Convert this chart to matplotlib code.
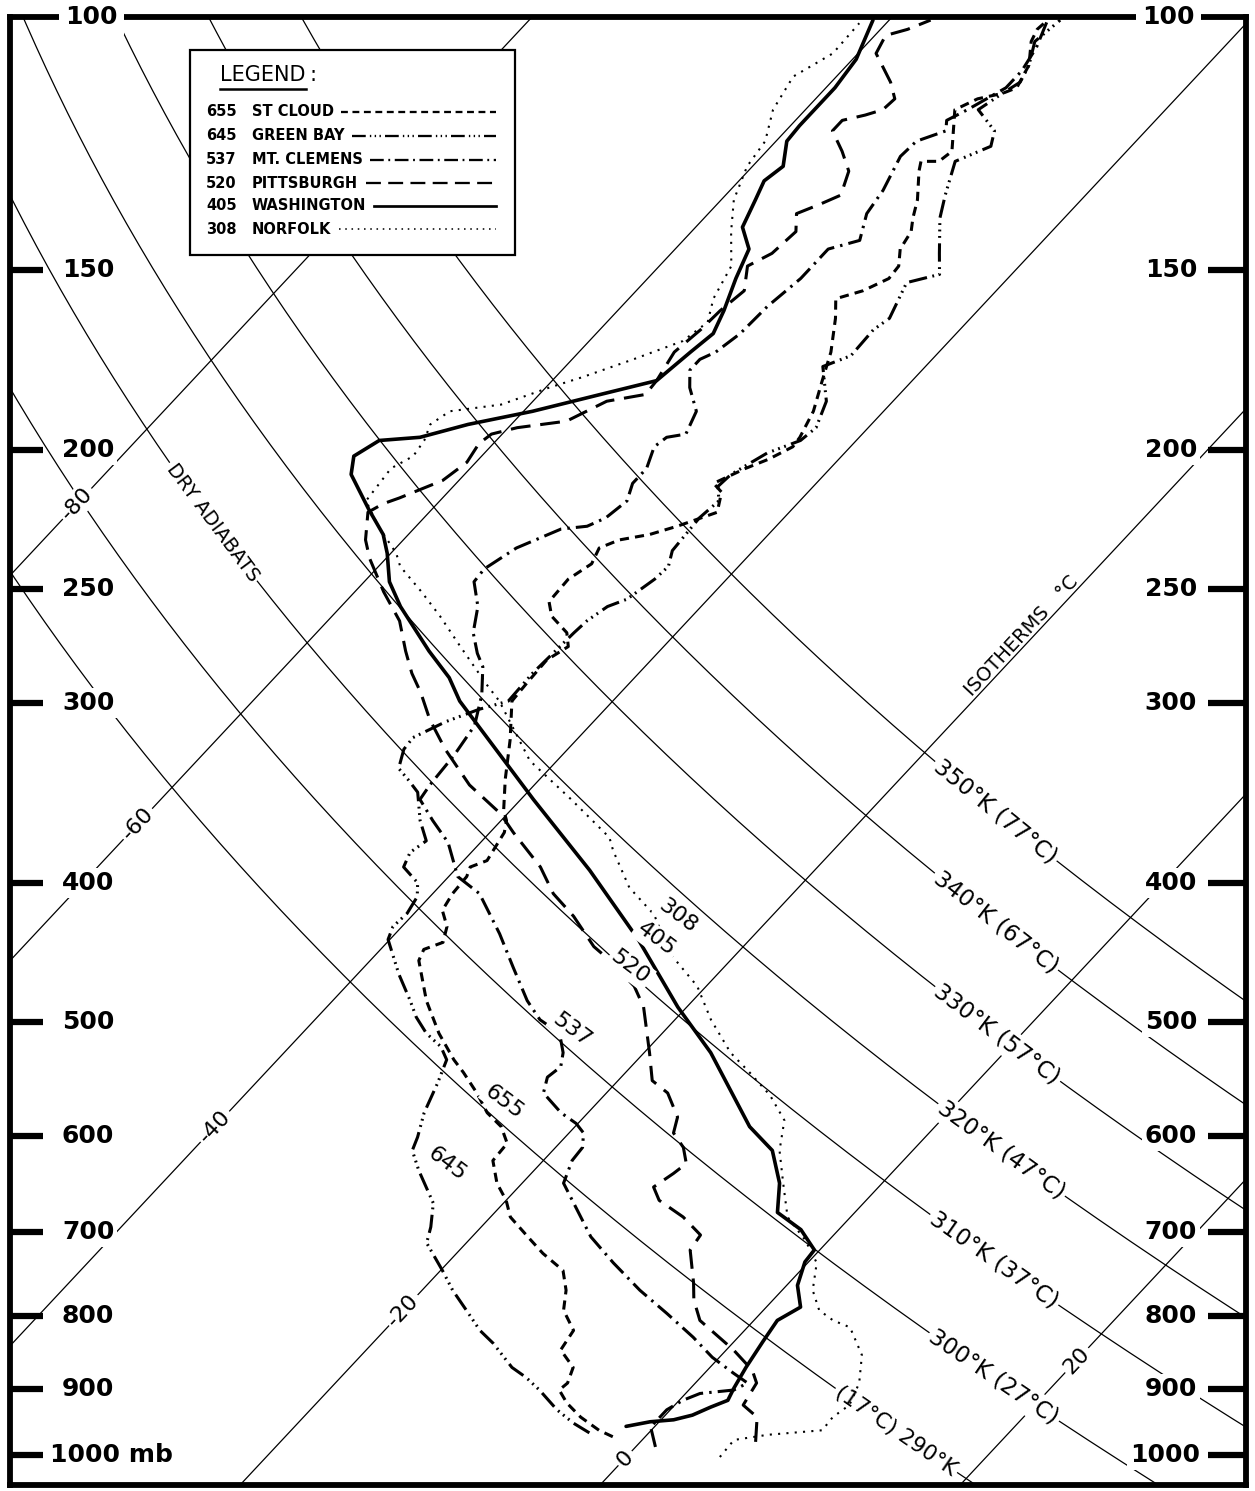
import numpy as np
import matplotlib
matplotlib.use("Agg")
import matplotlib.pyplot as plt
import matplotlib.transforms as mtransforms
from matplotlib.patches import Rectangle

SKEW = 74.67     # isotherm shift (deg C) per decade of pressure
KAPPA = 0.288

pressure_levels = [150, 200, 250, 300, 400, 500, 600, 700, 800, 900]
isotherms = [-80, -60, -40, -20, 0, 20]
isotherm_label_p = [218, 364, 591, 793, 1005, 859]
adiabats_k = [290, 300, 310, 320, 330, 340, 350]
adiabats_c = [17, 27, 37, 47, 57, 67, 77]
adiabat_label_p = [962, 883, 732, 614, 510, 426, 357]

stations = ["655", "645", "537", "520", "405", "308"]
station_names = ["ST CLOUD", "GREEN BAY", "MT. CLEMENS", "PITTSBURGH", "WASHINGTON", "NORFOLK"]
station_label_p = [568, 627, 506, 458, 438, 422]
station_label_t = -25.2

# soundings: (pressure mb, temperature C)
st_cloud = [(971, -1.8), (961, -2.9), (941, -4.6), (920, -6.1), (901, -7.2), (891, -7.1), (869, -7.6),
            (845, -9.2), (819, -9.5), (793, -11.1), (768, -12.0), (744, -13.2), (724, -15.2), (705, -16.9),
            (683, -18.9), (665, -20.0), (647, -21.4), (624, -22.8), (607, -22.9), (591, -24.1), (578, -25.6),
            (560, -27.2), (542, -29.0), (531, -30.2), (509, -32.4), (483, -34.8), (453, -37.3), (445, -37.6),
            (440, -36.9), (429, -37.5), (418, -38.6), (407, -38.9), (396, -39.0), (390, -39.3), (386, -38.7),
            (369, -39.2), (362, -39.7), (356, -40.4), (339, -41.9), (318, -43.7), (299, -45.6), (291, -45.7),
            (280, -45.8), (274, -45.3), (268, -46.1), (261, -47.8), (255, -48.7), (246, -48.8), (240, -48.3),
            (234, -48.7), (231, -48.0), (229, -46.6), (226, -45.5), (224, -44.9), (221, -44.0), (214, -44.8),
            (211, -45.7), (206, -44.7), (203, -43.9), (199, -43.2), (196, -43.3), (188, -43.9), (179, -45.0),
            (171, -46.0), (162, -47.5), (157, -48.5), (155, -47.4), (152, -46.6), (149, -46.7), (145, -47.5),
            (141, -47.8), (138, -48.4), (134, -49.1), (128, -50.5), (126, -50.9), (126, -49.9), (124, -49.7),
            (116, -51.7), (114, -51.0), (113, -49.9), (112, -49.4), (108, -49.9), (104, -51.0), (102, -51.3),
            (100.5, -51.2)]

green_bay = [(965, -3.3), (950, -4.7), (930, -6.3), (901, -8.3), (883, -9.7), (869, -11.0), (836, -13.3),
             (819, -14.7), (793, -16.5), (768, -18.3), (744, -19.9), (712, -22.2), (694, -22.8), (668, -23.9),
             (634, -26.4), (614, -27.8), (601, -28.2), (578, -29.1), (551, -29.9), (531, -30.6), (520, -31.6),
             (509, -33.1), (496, -34.5), (483, -35.7), (463, -37.7), (438, -40.1), (429, -40.5), (420, -40.4),
             (409, -40.7), (400, -41.4), (390, -43.0), (381, -43.4), (374, -43.1), (362, -44.5), (346, -46.1),
             (339, -47.3), (333, -48.4), (323, -49.1), (317, -49.2), (309, -48.2), (303, -47.0), (299, -45.8),
             (286, -45.9), (277, -45.8), (268, -45.7), (263, -45.6), (257, -45.2), (254, -44.5), (246, -44.0),
             (241, -43.9), (235, -44.5), (229, -44.6), (223, -44.7), (217, -44.5), (212, -45.3), (208, -45.2),
             (201, -44.3), (197, -43.1), (193, -42.9), (185, -43.7), (175, -45.7), (172, -44.7), (165, -44.8),
             (162, -44.5), (153, -45.4), (151, -44.0), (146, -45.1), (138, -46.9), (133, -47.8), (126, -49.0),
             (123, -47.8), (120, -48.4), (116, -50.4), (113, -49.9), (111, -49.5), (108, -49.9), (104, -50.8),
             (100.5, -50.5)]

mt_clemens = [(987, 1.1), (956, -0.2), (930, -0.2), (916, 0.2), (906, 0.8), (901, 2.5), (891, 2.9),
              (877, 1.6), (855, -0.4), (828, -2.5), (797, -5.2), (768, -7.9), (735, -10.8), (705, -13.4),
              (647, -17.7), (637, -18.0), (624, -18.4), (611, -18.5), (597, -19.2), (588, -20.1), (578, -21.5),
              (560, -23.5), (546, -24.1), (537, -23.9), (525, -24.5), (509, -25.7), (498, -27.5), (483, -29.2),
              (458, -31.7), (434, -34.2), (407, -37.4), (396, -39.5), (375, -41.8), (362, -43.8), (350, -45.6),
              (342, -45.8), (326, -46.0), (311, -46.4), (296, -47.6), (283, -49.0), (277, -50.0), (268, -51.3),
              (257, -52.4), (247, -53.9), (242, -54.0), (234, -53.3), (227, -51.8), (226, -50.5), (223, -49.9),
              (217, -49.6), (211, -50.2), (206, -50.2), (199, -50.9), (196, -50.7), (195, -49.8), (188, -50.4),
              (181, -52.0), (176, -52.9), (173, -52.9), (171, -52.4), (166, -52.0), (159, -51.9), (152, -51.5),
              (145, -51.5), (143, -50.2), (137, -51.2), (132, -51.5), (125, -52.3), (122, -52.2), (120, -51.1),
              (118, -51.6), (116, -51.0), (112, -50.0), (109, -50.0), (105, -50.4), (100.5, -51.2)]

pittsburgh = [(979, 6.4), (941, 5.2), (923, 3.8), (891, 3.4), (873, 2.5), (845, 0.4), (806, -3.0),
              (780, -4.4), (759, -5.3), (720, -7.2), (703, -7.4), (683, -9.3), (665, -11.5), (651, -12.5),
              (637, -12.1), (627, -11.9), (611, -12.9), (597, -14.2), (582, -14.8), (560, -16.6), (549, -18.1),
              (525, -19.7), (488, -22.4), (472, -24.0), (451, -27.0), (443, -28.3), (422, -31.0), (407, -33.3),
              (390, -35.4), (369, -38.7), (358, -40.4), (342, -43.6), (323, -46.8), (308, -49.2), (295, -51.1),
              (286, -52.6), (276, -54.1), (263, -56.0), (251, -58.4), (238, -60.9), (231, -62.1), (221, -63.4),
              (218, -63.0), (216, -62.4), (210, -60.9), (204, -60.5), (198, -60.8), (195, -60.6), (193, -59.5),
              (191, -57.1), (185, -55.9), (183, -54.1), (179, -54.2), (171, -54.7), (165, -54.4), (160, -54.3),
              (155, -54.0), (149, -55.1), (146, -54.4), (141, -54.2), (137, -55.1), (135, -54.3), (133, -53.6),
              (128, -54.4), (124, -55.8), (120, -57.4), (118, -57.4), (117, -56.4), (116, -55.7), (114, -55.6),
              (111, -56.7), (106, -59.0), (103, -59.4), (102, -58.5), (100.5, -57.7)]

washington = [(955, -1.6), (948, -0.5), (945, 0.7), (938, 1.5), (926, 2.1), (916, 2.7), (898, 2.4),
              (869, 2.0), (834, 1.6), (806, 1.3), (789, 1.9), (762, 0.6), (734, -0.2), (720, -0.3),
              (697, -2.1), (678, -4.3), (647, -5.7), (614, -7.8), (591, -10.3), (525, -16.3), (488, -20.5),
              (438, -26.2), (392, -32.5), (350, -39.3), (299, -48.5), (288, -50.3), (276, -52.8), (257, -56.7),
              (247, -58.6), (236, -60.2), (229, -61.4), (220, -63.5), (208, -66.3), (202, -67.1), (197, -66.5),
              (196, -64.4), (192, -62.4), (188, -59.5), (183, -56.6), (179, -54.2), (171, -53.8), (166, -53.5),
              (160, -54.1), (152, -55.1), (145, -55.9), (140, -57.4), (134, -58.1), (130, -58.6), (127, -58.3),
              (122, -59.4), (119, -59.5), (112, -59.5), (107, -59.8), (100.5, -60.9)]

norfolk = [(1003, 5.2), (976, 5.1), (968, 6.7), (961, 9.5), (941, 9.4), (923, 9.7), (891, 9.1), (852, 7.8),
           (815, 5.7), (806, 4.4), (793, 3.1), (768, 1.7), (735, 0.5), (709, -1.3), (683, -3.5), (647, -5.5),
           (614, -7.4), (585, -8.7), (562, -10.8), (542, -13.1), (525, -15.2), (498, -18.0), (472, -20.5),
           (448, -23.7), (421, -26.6), (403, -29.4), (380, -32.2), (372, -33.1), (350, -37.2), (329, -41.5),
           (299, -46.3), (291, -47.9), (273, -51.5), (261, -54.0), (251, -56.3), (241, -58.8), (236, -59.7),
           (226, -62.1), (217, -64.1), (206, -64.4), (202, -63.8), (197, -64.0), (192, -64.5), (188, -64.1),
           (186, -61.6), (181, -59.8), (178, -58.5), (173, -56.6), (168, -54.8), (163, -54.4), (157, -55.3),
           (149, -56.0), (141, -57.8), (134, -59.3), (127, -60.3), (122, -60.6), (116, -61.8), (110, -62.4),
           (106, -61.4), (101, -61.5)]

soundings = [st_cloud, green_bay, mt_clemens, pittsburgh, washington, norfolk]
styles = [dict(lw=2.2, ls=(0, (3, 2))),
          dict(lw=2.2, ls=(0, (6, 1.8, 0.6, 1.5, 0.6, 1.5, 0.6, 1.8))),
          dict(lw=2.2, ls=(0, (6, 2, 0.8, 2))),
          dict(lw=2.2, ls=(0, (6.5, 3.2))),
          dict(lw=2.6, ls="-"),
          dict(lw=1.5, ls=(0, (1, 3)))]


def sx(t, p):
    return np.asarray(t, float) + SKEW * np.log10(1000.0 / np.asarray(p, float))


def theta_t(k, p):
    return k * (np.asarray(p, float) / 1000.0) ** KAPPA - 273.15


fig = plt.figure(figsize=(12.55, 14.91), dpi=100)
ax = fig.add_axes([10 / 1255, 6 / 1491, 1236 / 1255, 1468 / 1491])
ax.set_yscale("log")
ax.set_ylim(1049, 100)
ax.set_xlim(-34.33, 34.33)
ax.set_xticks([])
ax.set_yticks([])
ax.yaxis.set_minor_locator(matplotlib.ticker.NullLocator())
for s in ax.spines.values():
    s.set_linewidth(4.2)

white = dict(boxstyle="square,pad=0.12", fc="white", ec="none")


def angle_at(t0, p0, t1, p1):
    a = ax.transData.transform((sx(t0, p0), p0))
    b = ax.transData.transform((sx(t1, p1), p1))
    return np.degrees(np.arctan2(b[1] - a[1], b[0] - a[0]))


pp = np.geomspace(1049, 100, 200)

# isotherms
for t, lp in zip(isotherms, isotherm_label_p):
    ax.plot(sx(t, pp), pp, color="black", lw=0.9, zorder=1)
    rot = angle_at(t, lp, t, lp / 1.02)
    ax.text(sx(t, lp), lp, f"{t}", rotation=rot, rotation_mode="anchor", ha="center", va="center",
            fontsize=16, bbox=white, zorder=2)

# dry adiabats
for k, c, lp in zip(adiabats_k, adiabats_c, adiabat_label_p):
    ax.plot(sx(theta_t(k, pp), pp), pp, color="black", lw=0.9, zorder=1)
    rot = angle_at(theta_t(k, lp), lp, theta_t(k, lp * 1.02), lp * 1.02)
    txt = f"({c}°C) {k}°K" if k == 290 else f"{k}°K ({c}°C)"
    ax.text(sx(theta_t(k, lp), lp), lp, txt, rotation=rot, rotation_mode="anchor", ha="center",
            va="center", fontsize=15.5 if k == 290 else 16.5, bbox=white, zorder=2)

p_lab = 224.6
rot = angle_at(theta_t(310, p_lab), p_lab, theta_t(310, p_lab * 1.02), p_lab * 1.02)
ax.text(sx(theta_t(310, p_lab), p_lab), p_lab, "DRY ADIABATS", rotation=rot, rotation_mode="anchor",
        ha="center", va="center", fontsize=14, bbox=white, zorder=2)

p_lab = 272
rot = angle_at(-20, p_lab, -20, p_lab / 1.02)
ax.text(sx(-20, p_lab), p_lab, "ISOTHERMS   °C", rotation=rot, rotation_mode="anchor",
        ha="center", va="bottom", fontsize=14, zorder=2)

# soundings
for snd, st in zip(soundings, styles):
    p = [v[0] for v in snd]
    t = [v[1] for v in snd]
    ax.plot(sx(t, p), p, color="black", lw=st["lw"], linestyle=st["ls"], zorder=3,
            solid_capstyle="round", dash_capstyle="butt")

for name, lp in zip(stations, station_label_p):
    ax.text(sx(station_label_t, lp), lp, name, rotation=-37, rotation_mode="anchor", ha="center",
            va="center", fontsize=16, bbox=white, zorder=4)

# pressure scales on both sides
bt = mtransforms.blended_transform_factory(ax.transAxes, ax.transData)
for p in pressure_levels + [1000]:
    ax.plot([0, 0.027], [p, p], transform=bt, color="black", lw=4.5, solid_capstyle="butt",
            clip_on=False, zorder=5)
    ax.plot([0.969, 1], [p, p], transform=bt, color="black", lw=4.5, solid_capstyle="butt",
            clip_on=False, zorder=5)
    left_txt = "1000 mb" if p == 1000 else str(p)
    ax.text(0.032 if p == 1000 else 0.042, p, left_txt, transform=bt, ha="left", va="center",
            fontsize=18, fontweight="bold", bbox=white, zorder=6)
    ax.text(0.9625 if p == 1000 else 0.9604, p, str(p), transform=bt, ha="right", va="center",
            fontsize=18, fontweight="bold", bbox=white, zorder=6)
ax.text(0.0445, 100, "100", transform=bt, ha="left", va="center", fontsize=18, fontweight="bold",
        bbox=dict(boxstyle="square,pad=0.25", fc="white", ec="none"), zorder=6, clip_on=False)
ax.text(0.9587, 100, "100", transform=bt, ha="right", va="center", fontsize=18, fontweight="bold",
        bbox=dict(boxstyle="square,pad=0.25", fc="white", ec="none"), zorder=6, clip_on=False)


# legend box
def fx(x):
    return (x - 10) / 1236


def fy(y):
    return (1485 - y) / 1468


ax.add_patch(Rectangle((fx(190), fy(255)), fx(515) - fx(190), fy(50) - fy(255), transform=ax.transAxes,
                       fc="white", ec="black", lw=1.6, zorder=7))
renderer = fig.canvas.get_renderer()
inv = ax.transAxes.inverted()
t_leg = ax.text(fx(220), fy(75), "LEGEND", transform=ax.transAxes, ha="left", va="center", fontsize=15,
                zorder=8)
bb = inv.transform(t_leg.get_window_extent(renderer))
ax.text(bb[1][0] + 0.003, fy(75), ":", transform=ax.transAxes, ha="left", va="center", fontsize=15, zorder=8)
ax.plot([bb[0][0], bb[1][0]], [fy(89), fy(89)], transform=ax.transAxes, color="black", lw=1.8, zorder=8)

row_y = [112, 136, 160, 183, 206, 229]
for num, name, st, ry in zip(stations, station_names, styles, row_y):
    ax.text(fx(206), fy(ry), num, transform=ax.transAxes, ha="left", va="center", fontsize=10.5,
            fontweight="bold", zorder=8)
    tn = ax.text(fx(252), fy(ry), name, transform=ax.transAxes, ha="left", va="center", fontsize=10.5,
                 fontweight="bold", zorder=8)
    end = inv.transform(tn.get_window_extent(renderer))[1][0]
    ax.plot([end + 0.006, fx(496)], [fy(ry), fy(ry)], transform=ax.transAxes, color="black",
            lw=st["lw"] * 0.75, linestyle=st["ls"], zorder=8)

fig.savefig("out.png", dpi=100, facecolor="white")
